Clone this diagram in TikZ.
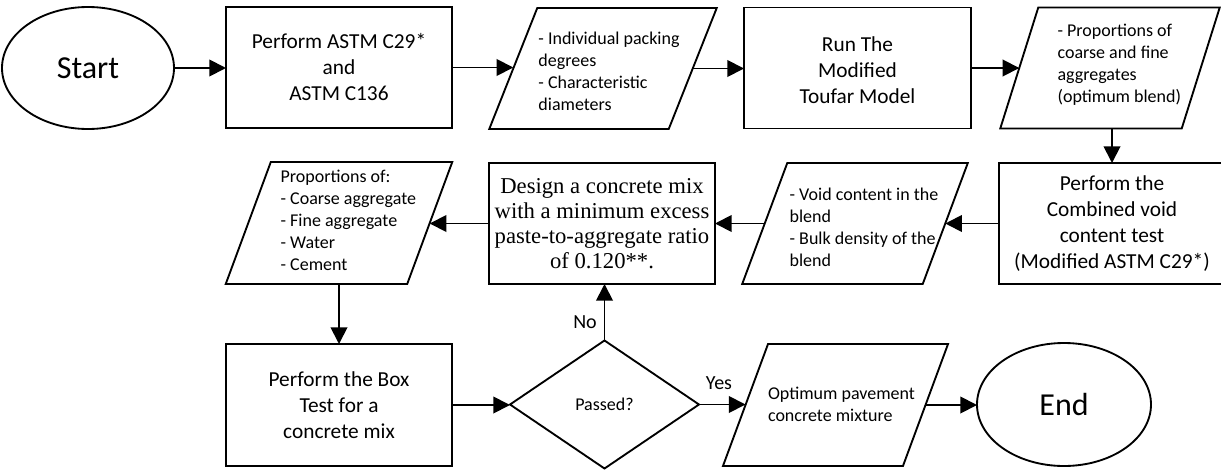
\documentclass[tikz,border=0pt]{standalone}
\usepackage{fontspec}
\setmainfont{Carlito}
\newfontfamily\serifb{Liberation Serif}
\usetikzlibrary{shapes.geometric,arrows.meta}
\newcommand{\mv}[3]{\hspace*{#1}\raisebox{#2}[\height][\depth]{#3}}
\newcommand{\lns}[1]{\begin{tabular}{@{}l@{}}#1\end{tabular}}
\begin{document}
\begin{tikzpicture}[x=0.75pt,y=-0.75pt,
  lw/.style={line width=1.4pt},
  box/.style={draw,lw,rectangle,minimum width=169.5pt,minimum height=90.75pt,inner sep=1pt,outer sep=0pt,align=center,font=\fontsize{16}{19.5}\selectfont},
  term/.style={draw,lw,ellipse,inner sep=0pt,outer sep=0pt,font=\fontsize{24}{28}\selectfont},
  pbox/.style={rectangle,inner sep=0pt,outer sep=0pt,minimum height=90.75pt,font=\fontsize{13.5}{16.5}\selectfont},
  dec/.style={draw,lw,diamond,inner sep=0pt,outer sep=0pt,minimum width=141.75pt,minimum height=96pt,font=\fontsize{13.5}{16.5}\selectfont},
  lab/.style={inner sep=0pt,font=\fontsize{15}{18}\selectfont},
  arr/.style={lw,-{Triangle[length=12.5pt,width=12.5pt]}},
]
\path[use as bounding box] (0,0) rectangle (1221,471);

% top row
\node[term,minimum width=129pt,minimum height=91.5pt] (start) at (88,68) {Start};
\node[box] (b1) at (339,67.5) {Perform ASTM C29*\\and\\ASTM C136};
\node[pbox,minimum width=134.6pt] (p1) at (603,68.5) {\mv{9pt}{-3.4pt}{\lns{- Individual packing\\degrees\\- Characteristic\\diameters}}};
\node[box,minimum width=170.25pt] (b2) at (857.5,68) {\mv{0pt}{-3pt}{\begin{tabular}{@{}c@{}}Run The\\Modified\\Toufar Model\end{tabular}}};
\node[pbox,minimum width=136.1pt] (p2) at (1110,68) {\mv{14pt}{2.25pt}{\lns{- Proportions of\\coarse and fine\\aggregates\\(optimum blend)}}};

% middle row
\node[box] (b3) at (1112,223.5) {Perform the\\Combined void\\content test\\(Modified ASTM C29*)};
\node[pbox,minimum width=135.4pt] (p3) at (855,223.5) {\mv{13.5pt}{-4pt}{\lns{- Void content in the\\blend\\- Bulk density of the\\blend}}};
\node[box,font=\serifb\fontsize{17}{18.75}\selectfont,inner sep=0pt] (b4) at (602,223.5) {Design a concrete mix\\with a minimum excess\\paste-to-aggregate ratio\\of 0.120**.};
\node[pbox,minimum width=136.1pt,minimum height=91.5pt] (p4) at (339,223) {\mv{14pt}{0.75pt}{\lns{Proportions of:\\- Coarse aggregate\\- Fine aggregate\\- Water\\- Cement}}};

% bottom row
\node[box,minimum height=91.5pt] (b5) at (339,405) {Perform the Box\\Test for a\\concrete mix};
\node[dec] (dia) at (604.5,404.5) {Passed?};
\node[pbox,minimum width=135pt,minimum height=91.5pt] (p5) at (835.5,405) {\mv{9pt}{-1pt}{\lns{Optimum pavement\\concrete mixture}}};
\node[term,minimum width=130.5pt,minimum height=92.25pt] (end) at (1064,404.5) {End};

% parallelogram outlines
\foreach \n/\s in {p1/18pt,p2/14.25pt,p3/16.9pt,p4/16.9pt,p5/16.9pt}
  \draw[lw,line join=miter] ([xshift=-\s]\n.south west) -- ([xshift=\s]\n.north west) -- ([xshift=\s]\n.north east) -- ([xshift=-\s]\n.south east) -- cycle;

% connectors
\draw[arr] (start.east) -- (start.east -| b1.west);
\draw[arr] (b1.east) -- (b1.east -| p1.west);
\draw[arr] (p1.east) -- (p1.east -| b2.west);
\draw[arr] (b2.east) -- (b2.east -| p2.west);
\draw[arr] (p2.south -| b3.north) -- (b3.north);
\draw[arr] (b3.west) -- (b3.west -| p3.east);
\draw[arr] (p3.west) -- (p3.west -| b4.east);
\draw[arr] (b4.west) -- (b4.west -| p4.east);
\draw[arr] (p4.south) -- (p4.south |- b5.north);
\draw[arr] (b5.east) -- (b5.east -| dia.west);
\draw[arr] (dia.north) -- (dia.north |- b4.south);
\draw[arr] (dia.east) -- (dia.east -| p5.west);
\draw[arr] (p5.east) -- (p5.east -| end.west);

% labels
\node[lab] (no) at (585,322) {No};
\node[lab] (yes) at (719,383) {Yes};
\end{tikzpicture}
\end{document}
